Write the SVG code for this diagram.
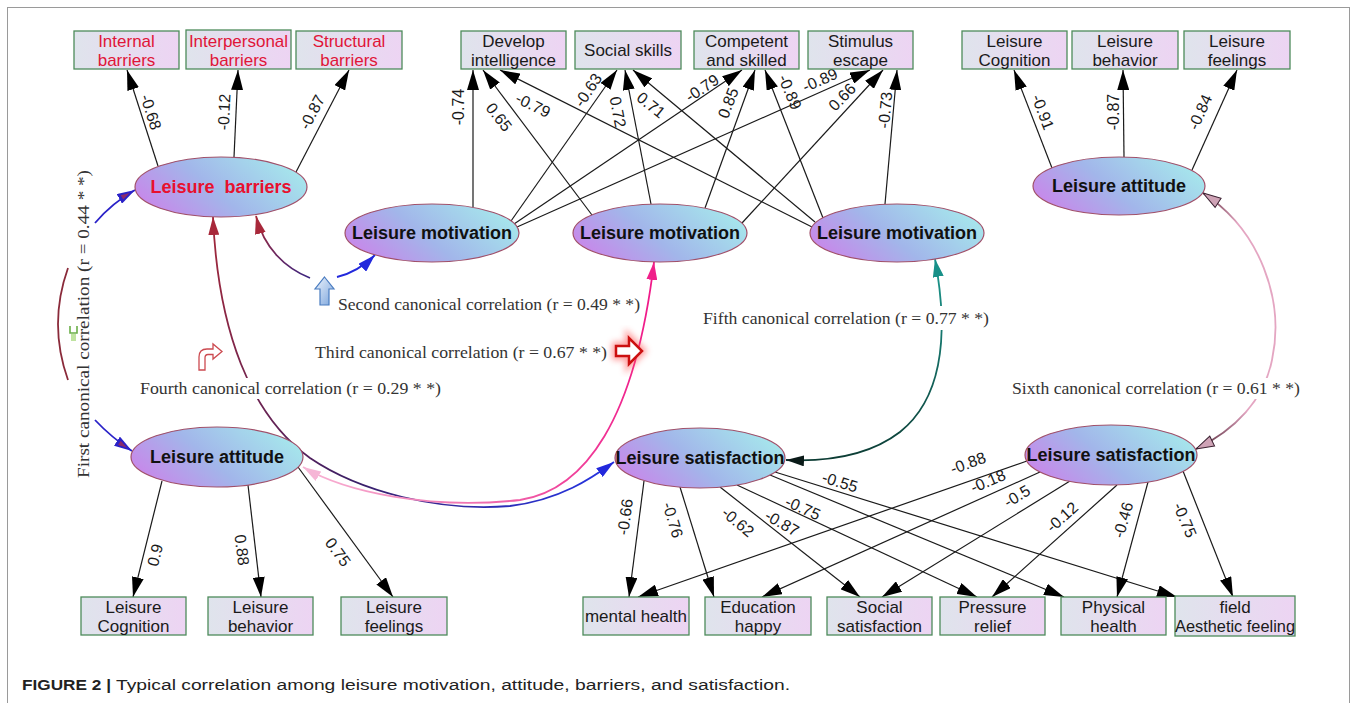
<svg xmlns="http://www.w3.org/2000/svg" width="1357" height="703" viewBox="0 0 1357 703">
<defs>
<linearGradient id="gBox" x1="0" y1="0" x2="1" y2="0"><stop offset="0" stop-color="#dfe4ec"/><stop offset="1" stop-color="#edd4f3"/></linearGradient>
<linearGradient id="gEl" x1="0" y1="0.7" x2="1" y2="0.3"><stop offset="0" stop-color="#c986ea"/><stop offset="0.45" stop-color="#a2b6ea"/><stop offset="1" stop-color="#a6e8ec"/></linearGradient>
<linearGradient id="g2" gradientUnits="userSpaceOnUse" x1="310" y1="278" x2="256" y2="216"><stop offset="0" stop-color="#3a2480"/><stop offset="1" stop-color="#a22a3a"/></linearGradient>
<linearGradient id="g4" gradientUnits="userSpaceOnUse" x1="213" y1="217" x2="614" y2="462"><stop offset="0" stop-color="#a3283a"/><stop offset="0.55" stop-color="#3b1f66"/><stop offset="1" stop-color="#2534e0"/></linearGradient>
<linearGradient id="g3" gradientUnits="userSpaceOnUse" x1="303" y1="0" x2="654" y2="0"><stop offset="0" stop-color="#f8b4d4"/><stop offset="0.5" stop-color="#f070b0"/><stop offset="1" stop-color="#f01888"/></linearGradient>
<linearGradient id="g5" gradientUnits="userSpaceOnUse" x1="0" y1="259" x2="0" y2="460"><stop offset="0" stop-color="#1c9a90"/><stop offset="1" stop-color="#0c3c34"/></linearGradient>
<linearGradient id="g6" gradientUnits="userSpaceOnUse" x1="0" y1="193" x2="0" y2="449"><stop offset="0" stop-color="#6a3a4a"/><stop offset="0.12" stop-color="#e4a6c2"/><stop offset="0.85" stop-color="#e4a6c2"/><stop offset="1" stop-color="#5a3040"/></linearGradient>
<linearGradient id="gUp" x1="0" y1="0" x2="1" y2="1"><stop offset="0" stop-color="#eef4fc"/><stop offset="1" stop-color="#7aa4dc"/></linearGradient>
<filter id="glow" x="-50%" y="-50%" width="200%" height="200%"><feGaussianBlur stdDeviation="3"/></filter>
<marker id="arr" viewBox="0 0 20 12" refX="20" refY="6" markerWidth="20" markerHeight="12" markerUnits="userSpaceOnUse" orient="auto"><path d="M0,0 L20,6 L0,12 Z" fill="#000"/></marker>
<marker id="mBlue" viewBox="0 0 18 11" refX="18" refY="5.5" markerWidth="18" markerHeight="11" markerUnits="userSpaceOnUse" orient="auto-start-reverse"><path d="M0,0 L18,5.5 L0,11 Z" fill="#2228dc"/></marker>
<marker id="mFirst" viewBox="0 0 18 11" refX="18" refY="5.5" markerWidth="18" markerHeight="11" markerUnits="userSpaceOnUse" orient="auto-start-reverse"><path d="M0,0 L18,5.5 L0,11 Z" fill="#2a22c8"/><path d="M3,3 L12,5.5 L3,8 Z" fill="#8a2a6a"/></marker>
<marker id="mRed" viewBox="0 0 18 11" refX="18" refY="5.5" markerWidth="18" markerHeight="11" markerUnits="userSpaceOnUse" orient="auto-start-reverse"><path d="M0,0 L18,5.5 L0,11 Z" fill="#a8283a"/></marker>
<marker id="mMag" viewBox="0 0 18 11" refX="18" refY="5.5" markerWidth="18" markerHeight="11" markerUnits="userSpaceOnUse" orient="auto-start-reverse"><path d="M0,0 L18,5.5 L0,11 Z" fill="#f0208a"/></marker>
<marker id="mPink" viewBox="0 0 18 11" refX="18" refY="5.5" markerWidth="18" markerHeight="11" markerUnits="userSpaceOnUse" orient="auto-start-reverse"><path d="M0,0 L18,5.5 L0,11 Z" fill="#f6b6d6"/></marker>
<marker id="mTeal" viewBox="0 0 18 11" refX="18" refY="5.5" markerWidth="18" markerHeight="11" markerUnits="userSpaceOnUse" orient="auto-start-reverse"><path d="M0,0 L18,5.5 L0,11 Z" fill="#189088"/></marker>
<marker id="mBlk" viewBox="0 0 18 11" refX="18" refY="5.5" markerWidth="18" markerHeight="11" markerUnits="userSpaceOnUse" orient="auto-start-reverse"><path d="M0,0 L18,5.5 L0,11 Z" fill="#0a1a18"/></marker>
<marker id="mMauve" viewBox="-1 -1 20 13" refX="18" refY="5.5" markerWidth="20" markerHeight="13" markerUnits="userSpaceOnUse" orient="auto-start-reverse"><path d="M0,0 L18,5.5 L0,11 Z" fill="#cfa3b6" stroke="#3a2030" stroke-width="1"/></marker>
<style>
.bx{fill:url(#gBox);stroke:#4d8b5b;stroke-width:1.3}
.bt{font-family:"Liberation Sans",Arial,sans-serif;font-size:17px;fill:#1a1a1a;text-anchor:middle}
.rt{fill:#e01538}
.el{fill:url(#gEl);stroke:#a0506a;stroke-width:1.2}
.et{font-family:"Liberation Sans",Arial,sans-serif;font-weight:bold;font-size:18px;text-anchor:middle;fill:#111}
.lb{font-family:"Liberation Sans",Arial,sans-serif;font-size:16px;fill:#1a1a1a;text-anchor:middle}
.ct{font-family:"Liberation Serif","Times New Roman",serif;font-size:17px;fill:#333}
.ed{stroke:#1a1a1a;stroke-width:1.2;fill:none;marker-end:url(#arr)}
.cv{fill:none;stroke-width:1.8}
</style>
</defs>
<rect x="0" y="0" width="1357" height="703" fill="#fff"/>
<rect x="7.5" y="7.5" width="1342" height="710" fill="none" stroke="#9a9a9a" stroke-width="1"/>

<g id="connectors">
<!-- barriers -->
<line class="ed" x1="158" y1="166" x2="127" y2="70"/>
<line class="ed" x1="234" y1="157" x2="238" y2="70"/>
<line class="ed" x1="296" y1="172" x2="349" y2="70"/>
<!-- motivation 1 -->
<line class="ed" x1="473" y1="207" x2="473" y2="70"/>
<line class="ed" x1="511" y1="221" x2="617" y2="70"/>
<line class="ed" x1="514" y1="224" x2="742" y2="70"/>
<line class="ed" x1="517" y1="227" x2="870" y2="70"/>
<!-- motivation 2 -->
<line class="ed" x1="592" y1="215" x2="483" y2="70"/>
<line class="ed" x1="651" y1="204" x2="625" y2="70"/>
<line class="ed" x1="705" y1="208" x2="755" y2="70"/>
<line class="ed" x1="742" y1="223" x2="883" y2="70"/>
<!-- motivation 3 -->
<line class="ed" x1="812" y1="227" x2="500" y2="70"/>
<line class="ed" x1="815" y1="222" x2="633" y2="70"/>
<line class="ed" x1="823" y1="218" x2="765" y2="70"/>
<line class="ed" x1="885" y1="204" x2="897" y2="70"/>
<!-- attitude right -->
<line class="ed" x1="1052" y1="168" x2="1014" y2="70"/>
<line class="ed" x1="1124" y1="157" x2="1123" y2="70"/>
<line class="ed" x1="1192" y1="170" x2="1237" y2="70"/>
<!-- attitude left -->
<line class="ed" x1="162" y1="481" x2="133" y2="597"/>
<line class="ed" x1="248" y1="485" x2="261" y2="597"/>
<line class="ed" x1="298" y1="467" x2="393" y2="597"/>
<!-- satisfaction mid -->
<line class="ed" x1="644" y1="481" x2="629" y2="597"/>
<line class="ed" x1="680" y1="487" x2="714" y2="597"/>
<line class="ed" x1="720" y1="487" x2="860" y2="597"/>
<line class="ed" x1="737" y1="485" x2="977" y2="597"/>
<line class="ed" x1="770" y1="475" x2="1064" y2="597"/>
<line class="ed" x1="775" y1="472" x2="1177" y2="597"/>
<!-- satisfaction right -->
<line class="ed" x1="1027" y1="461" x2="638" y2="597"/>
<line class="ed" x1="1040" y1="472" x2="762" y2="597"/>
<line class="ed" x1="1070" y1="481" x2="882" y2="597"/>
<line class="ed" x1="1117" y1="485" x2="992" y2="597"/>
<line class="ed" x1="1148" y1="482" x2="1117" y2="597"/>
<line class="ed" x1="1183" y1="471" x2="1233" y2="597"/>

<!-- canonical correlation curves -->
<path class="cv" d="M95,223 Q112,203 135,190" stroke="#2a22c8" marker-end="url(#mFirst)"/>
<path class="cv" d="M95,420 Q112,438 132,451" stroke="#2a22c8" marker-end="url(#mFirst)"/>
<path class="cv" d="M68,268 Q48,324 68,380" stroke="#8a2a3a" stroke-width="1.5"/>
<path class="cv" d="M310,278 C285,268 264,248 256,216" stroke="url(#g2)" marker-end="url(#mRed)"/>
<path class="cv" d="M337,277 Q358,272 375,255" stroke="#2228dc" stroke-width="2" marker-end="url(#mBlue)"/>
<path class="cv" d="M213,217 C218,330 250,415 310,458 C360,492 440,512 510,506 C560,500 592,478 614,462" stroke="url(#g4)" marker-start="url(#mRed)" marker-end="url(#mBlue)"/>
<path class="cv" d="M303,467 C345,492 430,510 520,500 C585,490 635,420 654,262" stroke="url(#g3)" marker-start="url(#mPink)" marker-end="url(#mMag)"/>
<path class="cv" d="M935,259 C950,340 940,400 900,432 C870,455 830,462 786,460" stroke="url(#g5)" marker-start="url(#mTeal)" marker-end="url(#mBlk)"/>
<path class="cv" d="M1203,193 C1260,230 1285,300 1272,360 C1264,400 1235,430 1196,449" stroke="url(#g6)" stroke-width="1.5" marker-start="url(#mMauve)" marker-end="url(#mMauve)"/>

<!-- edge labels -->
<g class="lb">
<text transform="translate(151,112) rotate(72)" dy="0.35em">-0.68</text>
<text transform="translate(224,112) rotate(-87)" dy="0.35em">-0.12</text>
<text transform="translate(312,112) rotate(-62)" dy="0.35em">-0.87</text>
<text transform="translate(458,107) rotate(-90)" dy="0.35em">-0.74</text>
<text transform="translate(499,117) rotate(52)" dy="0.35em">0.65</text>
<text transform="translate(533,105) rotate(26)" dy="0.35em">-0.79</text>
<text transform="translate(588,90) rotate(-56)" dy="0.35em">-0.63</text>
<text transform="translate(618,112) rotate(79)" dy="0.35em">0.72</text>
<text transform="translate(651,105) rotate(39)" dy="0.35em">0.71</text>
<text transform="translate(702,88) rotate(-34)" dy="0.35em">-0.79</text>
<text transform="translate(728,103) rotate(-69)" dy="0.35em">0.85</text>
<text transform="translate(790,92) rotate(67)" dy="0.35em">-0.89</text>
<text transform="translate(820,80) rotate(-24)" dy="0.35em">-0.89</text>
<text transform="translate(842,97) rotate(-46)" dy="0.35em">0.66</text>
<text transform="translate(885,110) rotate(-85)" dy="0.35em">-0.73</text>
<text transform="translate(1043,112) rotate(69)" dy="0.35em">-0.91</text>
<text transform="translate(1113,112) rotate(-90)" dy="0.35em">-0.87</text>
<text transform="translate(1200,112) rotate(-66)" dy="0.35em">-0.84</text>
<text transform="translate(155,555) rotate(-76)" dy="0.35em">0.9</text>
<text transform="translate(242,550) rotate(83)" dy="0.35em">0.88</text>
<text transform="translate(338,552) rotate(54)" dy="0.35em">0.75</text>
<text transform="translate(625,517) rotate(-82)" dy="0.35em">-0.66</text>
<text transform="translate(673,520) rotate(73)" dy="0.35em">-0.76</text>
<text transform="translate(738,522) rotate(40)" dy="0.35em">-0.62</text>
<text transform="translate(782,523) rotate(30)" dy="0.35em">-0.87</text>
<text transform="translate(803,508) rotate(24)" dy="0.35em">-0.75</text>
<text transform="translate(840,482) rotate(17)" dy="0.35em">-0.55</text>
<text transform="translate(968,463) rotate(-20)" dy="0.35em">-0.88</text>
<text transform="translate(988,481) rotate(-23)" dy="0.35em">-0.18</text>
<text transform="translate(1017,496) rotate(-31)" dy="0.35em">-0.5</text>
<text transform="translate(1062,517) rotate(-42)" dy="0.35em">-0.12</text>
<text transform="translate(1123,520) rotate(-74)" dy="0.35em">-0.46</text>
<text transform="translate(1185,520) rotate(67)" dy="0.35em">-0.75</text>
</g>

<!-- canonical labels -->
<rect x="138" y="378" width="305" height="21" fill="#fff"/>
<rect x="701" y="306" width="290" height="24" fill="#fff"/>
<rect x="1010" y="378" width="292" height="21" fill="#fff"/>
<text class="ct" x="338" y="310" textLength="302" lengthAdjust="spacingAndGlyphs">Second canonical correlation (r = 0.49 * *)</text>
<text class="ct" x="315" y="358" textLength="292" lengthAdjust="spacingAndGlyphs">Third canonical correlation (r = 0.67 * *)</text>
<text class="ct" x="140" y="394" textLength="301" lengthAdjust="spacingAndGlyphs">Fourth canonical correlation (r = 0.29 * *)</text>
<text class="ct" x="703" y="324" textLength="286" lengthAdjust="spacingAndGlyphs">Fifth canonical correlation (r = 0.77 * *)</text>
<text class="ct" x="1012" y="394" textLength="288" lengthAdjust="spacingAndGlyphs">Sixth canonical correlation (r = 0.61 * *)</text>
<text class="ct" transform="translate(89,478) rotate(-90)" textLength="308" lengthAdjust="spacingAndGlyphs">First canonical correlation (r = 0.44 * *)</text>

<!-- icons -->
<path d="M324.5,277 L334,289 L329,289 L329,305 L320,305 L320,289 L315,289 Z" fill="url(#gUp)" stroke="#4a7cc0" stroke-width="1.2"/>
<path d="M616,346 L629,346 L629,338 L642,351 L629,364 L629,356 L616,356 Z" fill="none" stroke="#ff5050" stroke-width="8" opacity="0.55" filter="url(#glow)"/>
<path d="M616,346 L629,346 L629,338 L642,351 L629,364 L629,356 L616,356 Z" fill="#fff" stroke="#cc1010" stroke-width="2.5" stroke-linejoin="miter"/>
<path d="M199,370 L199,357 Q199,349 207,349 L213,349 L213,344 L222,351.5 L213,359 L213,354.5 L208,354.5 Q205,354.5 205,358 L205,370 Z" fill="#fff" stroke="#cc4a50" stroke-width="1.3"/>
<path d="M70,326 L70,333 L77,333 L77,326" fill="none" stroke="#6aae48" stroke-width="1.6"/>
<rect x="71" y="334" width="5" height="7" fill="#bfe3a0"/>
</g>

<g id="n-internal"><rect class="bx" x="74" y="31" width="105" height="38"/><text class="bt rt" x="126.5" y="47">Internal</text><text class="bt rt" x="126.5" y="66">barriers</text></g>
<g id="n-interpersonal"><rect class="bx" x="186" y="30" width="105" height="39"/><text class="bt rt" x="238.5" y="47">Interpersonal</text><text class="bt rt" x="238.5" y="66">barriers</text></g>
<g id="n-structural"><rect class="bx" x="296" y="31" width="106" height="38"/><text class="bt rt" x="349" y="47">Structural</text><text class="bt rt" x="349" y="66">barriers</text></g>

<g id="n-develop"><rect class="bx" x="461" y="31" width="105" height="38"/><text class="bt" x="513.5" y="47">Develop</text><text class="bt" x="513.5" y="66">intelligence</text></g>
<g id="n-social"><rect class="bx" x="575" y="31" width="106" height="38"/><text class="bt" x="628" y="56">Social skills</text></g>
<g id="n-competent"><rect class="bx" x="694" y="31" width="105" height="38"/><text class="bt" x="746.5" y="47">Competent</text><text class="bt" x="746.5" y="66">and skilled</text></g>
<g id="n-stimulus"><rect class="bx" x="808" y="31" width="105" height="38"/><text class="bt" x="860.5" y="47">Stimulus</text><text class="bt" x="860.5" y="66">escape</text></g>

<g id="n-cog-top"><rect class="bx" x="962" y="31" width="105" height="38"/><text class="bt" x="1014.5" y="47">Leisure</text><text class="bt" x="1014.5" y="66">Cognition</text></g>
<g id="n-beh-top"><rect class="bx" x="1072" y="31" width="106" height="38"/><text class="bt" x="1125" y="47">Leisure</text><text class="bt" x="1125" y="66">behavior</text></g>
<g id="n-feel-top"><rect class="bx" x="1184" y="31" width="106" height="38"/><text class="bt" x="1237" y="47">Leisure</text><text class="bt" x="1237" y="66">feelings</text></g>

<g id="n-barriers"><ellipse class="el" cx="221" cy="187" rx="86" ry="30"/><text class="et" x="221" y="193" fill="#e8102e" style="fill:#e8102e" xml:space="preserve">Leisure  barriers</text></g>
<g id="n-motiv1"><ellipse class="el" cx="432" cy="233" rx="87" ry="29"/><text class="et" x="432" y="239">Leisure motivation</text></g>
<g id="n-motiv2"><ellipse class="el" cx="660" cy="233" rx="87" ry="29"/><text class="et" x="660" y="239">Leisure motivation</text></g>
<g id="n-motiv3"><ellipse class="el" cx="897" cy="233" rx="87" ry="29"/><text class="et" x="897" y="239">Leisure motivation</text></g>
<g id="n-attitude-top"><ellipse class="el" cx="1119" cy="186" rx="86" ry="29"/><text class="et" x="1119" y="192">Leisure attitude</text></g>
<g id="n-attitude-left"><ellipse class="el" cx="217" cy="457" rx="86" ry="30"/><text class="et" x="217" y="463">Leisure attitude</text></g>
<g id="n-satis-mid"><ellipse class="el" cx="700" cy="458" rx="85" ry="30"/><text class="et" x="700" y="464">Leisure satisfaction</text></g>
<g id="n-satis-right"><ellipse class="el" cx="1111" cy="455" rx="86" ry="30"/><text class="et" x="1111" y="461">Leisure satisfaction</text></g>

<g id="n-cog-bot"><rect class="bx" x="81" y="597" width="105" height="38"/><text class="bt" x="133.5" y="613">Leisure</text><text class="bt" x="133.5" y="632">Cognition</text></g>
<g id="n-beh-bot"><rect class="bx" x="208" y="597" width="105" height="38"/><text class="bt" x="260.5" y="613">Leisure</text><text class="bt" x="260.5" y="632">behavior</text></g>
<g id="n-feel-bot"><rect class="bx" x="341" y="597" width="106" height="38"/><text class="bt" x="394" y="613">Leisure</text><text class="bt" x="394" y="632">feelings</text></g>

<g id="n-mental"><rect class="bx" x="583" y="597" width="106" height="38"/><text class="bt" x="636" y="622">mental health</text></g>
<g id="n-education"><rect class="bx" x="705" y="597" width="106" height="38"/><text class="bt" x="758" y="613">Education</text><text class="bt" x="758" y="632">happy</text></g>
<g id="n-socsat"><rect class="bx" x="827" y="597" width="105" height="38"/><text class="bt" x="879.5" y="613">Social</text><text class="bt" x="879.5" y="632">satisfaction</text></g>
<g id="n-pressure"><rect class="bx" x="940" y="597" width="105" height="38"/><text class="bt" x="992.5" y="613">Pressure</text><text class="bt" x="992.5" y="632">relief</text></g>
<g id="n-physical"><rect class="bx" x="1061" y="597" width="105" height="38"/><text class="bt" x="1113.5" y="613">Physical</text><text class="bt" x="1113.5" y="632">health</text></g>
<g id="n-aesthetic"><rect class="bx" x="1175" y="596" width="120" height="40"/><text class="bt" x="1235" y="613">field</text><text class="bt" x="1235" y="632" textLength="120" lengthAdjust="spacingAndGlyphs">Aesthetic feeling</text></g>

<g id="caption">
<text x="22" y="690" font-family="'Liberation Sans',Arial,sans-serif" font-size="15.5" font-weight="bold" fill="#222" textLength="89" lengthAdjust="spacingAndGlyphs">FIGURE 2 |</text>
<text x="116" y="690" font-family="'Liberation Sans',Arial,sans-serif" font-size="15.5" fill="#222" textLength="674" lengthAdjust="spacingAndGlyphs">Typical correlation among leisure motivation, attitude, barriers, and satisfaction.</text>
</g>
</svg>
